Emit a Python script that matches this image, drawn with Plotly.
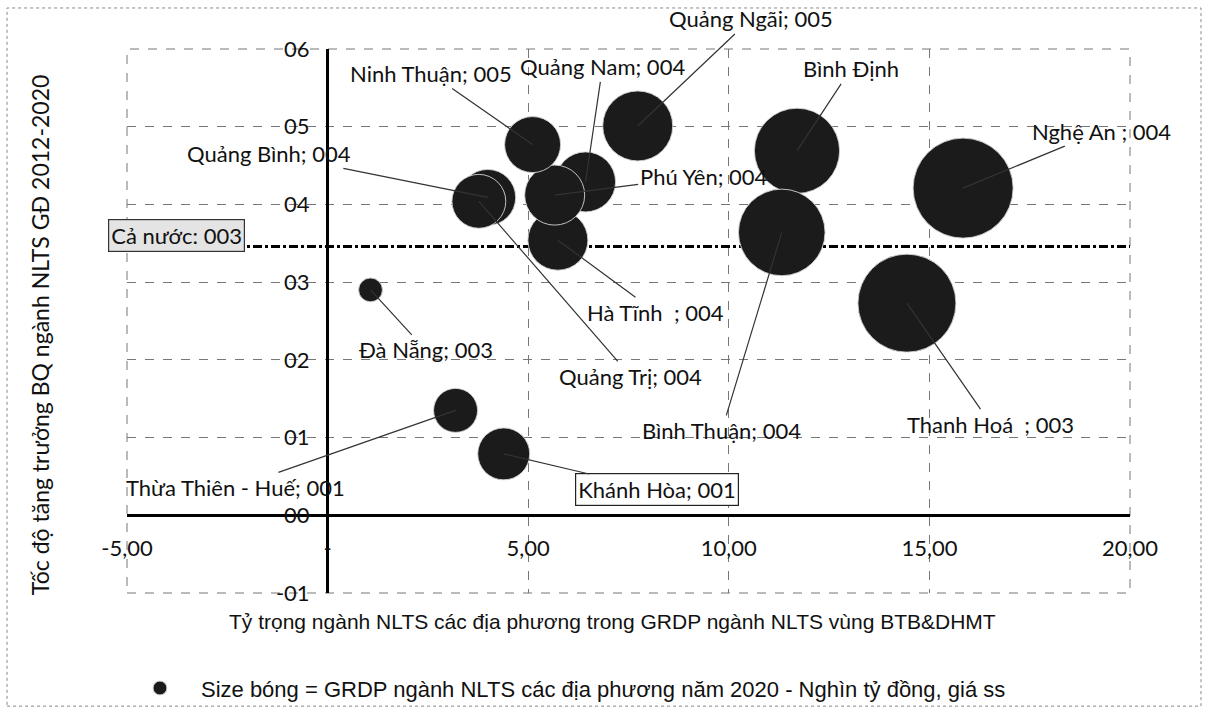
import plotly.graph_objects as go

# ---------------- data ----------------
provinces = ["Thanh Hoá", "Nghệ An", "Hà Tĩnh", "Quảng Bình", "Quảng Trị",
             "Thừa Thiên - Huế", "Đà Nẵng", "Quảng Nam", "Quảng Ngãi", "Bình Định",
             "Phú Yên", "Khánh Hòa", "Ninh Thuận", "Bình Thuận"]
share = [14.44, 15.84, 5.74, 3.99, 3.77, 3.19, 1.07, 6.43, 7.73, 11.70, 5.66, 4.39, 5.11, 11.32]
growth = [0.0273, 0.0421, 0.0354, 0.0409, 0.0404, 0.0135, 0.0290, 0.0429, 0.0501, 0.0469,
          0.0412, 0.0079, 0.0477, 0.0364]
grdp = [28.8, 30.0, 10.8, 9.4, 8.7, 5.8, 1.7, 10.8, 14.7, 21.8, 10.8, 8.1, 9.4, 22.5]
labels = ["Thanh Hoá  ; 003", "Nghệ An ; 004", "Hà Tĩnh  ; 004", "Quảng Bình; 004",
          "Quảng Trị; 004", "Thừa Thiên - Huế; 001", "Đà Nẵng; 003", "Quảng Nam; 004",
          "Quảng Ngãi; 005", "Bình Định", "Phú Yên; 004", "Khánh Hòa; 001",
          "Ninh Thuận; 005", "Bình Thuận; 004"]

national_growth = 0.0346
national_label = "Cả nước: 003"

x_tickvals = [-5, 0, 5, 10, 15, 20]
x_ticktext = ["-5,00", "-", "5,00", "10,00", "15,00", "20,00"]
y_tickvals = [-0.01, 0.0, 0.01, 0.02, 0.03, 0.04, 0.05, 0.06]
y_ticktext = ["-01", "00", "01", "02", "03", "04", "05", "06"]

x_title = "Tỷ trọng ngành NLTS các địa phương trong GRDP ngành NLTS vùng BTB&DHMT"
y_title = "Tốc độ tăng trưởng BQ ngành NLTS GĐ 2012-2020"
size_legend = "Size bóng = GRDP ngành NLTS các địa phương năm 2020 - Nghìn tỷ đồng, giá ss"

# label offsets in pixels (style only)
label_offsets = {
    "Thanh Hoá": (84, 121), "Nghệ An": (138, -57), "Hà Tĩnh": (98, 72),
    "Quảng Bình": (-219, -44), "Quảng Trị": (152, 175), "Thừa Thiên - Huế": (-220, 77),
    "Đà Nẵng": (55, 60), "Quảng Nam": (17, -115), "Quảng Ngãi": (113, -107),
    "Bình Định": (54, -82), "Phú Yên": (149, -19), "Khánh Hòa": (153, 36),
    "Ninh Thuận": (-102, -71), "Bình Thuận": (-60, 198),
}

LABEL_FONT = dict(family="Lato, 'Open Sans', sans-serif", size=22, color="#111")
ARIAL = "'Liberation Sans', Arial, sans-serif"

fig = go.Figure()

# national average line
fig.add_trace(go.Scatter(
    x=[x_tickvals[0], x_tickvals[-1]], y=[national_growth, national_growth],
    mode="lines", line=dict(color="#000", width=3, dash="dashdot"),
    hoverinfo="skip", showlegend=False))

max_d = 100
fig.add_trace(go.Scatter(
    x=share, y=growth, mode="markers", name=size_legend,
    text=provinces,
    marker=dict(size=grdp, sizemode="area", sizeref=2.0 * max(grdp) / max_d ** 2,
                color="#1b1b1b", opacity=1,
                line=dict(color="rgba(210,210,210,0.9)", width=1)),
    showlegend=True))

annotations = []
for name, xv, yv, lab in zip(provinces, share, growth, labels):
    ax, ay = label_offsets[name]
    ann = dict(x=xv, y=yv, xref="x", yref="y", text=lab, showarrow=True,
               arrowhead=0, arrowwidth=1.2, arrowcolor="#333", ax=ax, ay=ay,
               font=LABEL_FONT)
    if name == "Khánh Hòa":
        ann.update(bordercolor="#222", borderwidth=1.2, bgcolor="white", borderpad=2)
    annotations.append(ann)

annotations.append(dict(x=-3.77, y=national_growth, xref="x", yref="y",
                        text=national_label, showarrow=False, yshift=11,
                        font=LABEL_FONT, bgcolor="#e4e4e4", bordercolor="#333",
                        borderwidth=1.2, borderpad=2))
annotations.append(dict(x=-0.0867, y=0.474, xref="paper", yref="paper", text=y_title,
                        textangle=-90, showarrow=False, xanchor="center", yanchor="middle",
                        font=dict(family="Lato, sans-serif", size=23, color="#111")))
annotations.append(dict(x=0.4845, y=-0.053, xref="paper", yref="paper", text=x_title,
                        showarrow=False, xanchor="center", yanchor="middle",
                        font=dict(family=ARIAL, size=21, color="#111")))

shapes = [
    dict(type="rect", xref="x domain", yref="y domain", x0=0, x1=1, y0=0, y1=1,
         line=dict(color="#777", width=1, dash="dash"), layer="below"),
    dict(type="rect", xref="paper", yref="paper", x0=-0.1196, x1=1.0708,
         y0=-0.208, y1=1.0754, line=dict(color="#888", width=1, dash="dot")),
]

fig.update_layout(
    width=1207, height=710,
    margin=dict(l=127, r=77, t=49, b=117, autoexpand=False),
    paper_bgcolor="white", plot_bgcolor="white",
    font=dict(family="Lato, sans-serif", size=22, color="#111"),
    annotations=annotations, shapes=shapes,
    showlegend=True,
    legend=dict(orientation="h", x=-0.008, y=-0.175, xanchor="left", yanchor="middle",
                font=dict(family=ARIAL, size=22, color="#111"), itemsizing="trace",
                itemwidth=72, bgcolor="rgba(0,0,0,0)"),
    xaxis=dict(range=[-5, 20], tickvals=x_tickvals, ticktext=x_ticktext,
               showgrid=True, gridcolor="#777", griddash="dash", gridwidth=1,
               zeroline=True, zerolinecolor="#000", zerolinewidth=3,
               anchor="free", position=(0 - (-0.01)) / 0.07, ticks="",
               ticklabelstandoff=18, tickfont=dict(size=22), showline=False),
    yaxis=dict(range=[-0.01, 0.06], tickvals=y_tickvals, ticktext=y_ticktext,
               showgrid=True, gridcolor="#777", griddash="dash", gridwidth=1,
               zeroline=True, zerolinecolor="#000", zerolinewidth=3,
               anchor="free", position=(0 - (-5)) / 25, ticks="",
               ticklabelstandoff=18, tickfont=dict(size=22), showline=False),
)

fig.write_html("out.html")
